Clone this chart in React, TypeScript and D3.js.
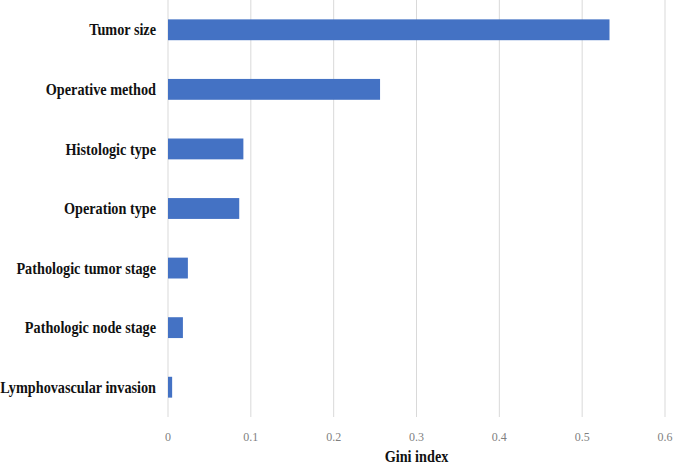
import { useEffect, useRef } from 'react';
import * as d3 from 'd3';

const features = [
  'Tumor size',
  'Operative method',
  'Histologic type',
  'Operation type',
  'Pathologic tumor stage',
  'Pathologic node stage',
  'Lymphovascular invasion',
];
const giniValues = [0.533, 0.256, 0.091, 0.086, 0.024, 0.018, 0.005];
const xTicks = [0, 0.1, 0.2, 0.3, 0.4, 0.5, 0.6];

export default function App() {
  const svgRef = useRef<SVGSVGElement>(null);

  useEffect(() => {
    if (!svgRef.current) return;
    const W = 685, H = 464;
    const svg = d3.select(svgRef.current).attr('width', W).attr('height', H);
    svg.selectAll('*').remove();

    const x = d3.scaleLinear().domain([0, 0.6]).range([168, 665]);
    const y = d3.scaleBand()
      .domain(features)
      .range([0, 417])
      .paddingInner(0.65)
      .paddingOuter(0.325);

    // Grid
    svg.append('g')
      .selectAll('line')
      .data(xTicks)
      .enter().append('line')
      .attr('x1', d => x(d)).attr('x2', d => x(d))
      .attr('y1', 0).attr('y2', 417)
      .attr('stroke', '#d9d9d9').attr('stroke-width', 1);

    // Bars
    svg.append('g')
      .selectAll('rect')
      .data(features)
      .enter().append('rect')
      .attr('x', x(0))
      .attr('y', d => y(d)!)
      .attr('width', (_, i) => x(giniValues[i]) - x(0))
      .attr('height', y.bandwidth())
      .attr('fill', '#4472c4');

    // Category labels (slightly condensed, like the source)
    svg.append('g')
      .selectAll('text')
      .data(features)
      .enter().append('text')
      .attr('transform', d => `translate(156,${y(d)! + y.bandwidth() / 2}) scale(0.89,1)`)
      .attr('dy', '0.35em')
      .attr('text-anchor', 'end')
      .attr('font-family', '"Liberation Serif", serif')
      .attr('font-weight', 'bold')
      .attr('font-size', 16)
      .attr('fill', '#111')
      .text(d => d);

    // X tick labels
    svg.append('g')
      .selectAll('text')
      .data(xTicks)
      .enter().append('text')
      .attr('x', d => x(d))
      .attr('y', 441)
      .attr('text-anchor', 'middle')
      .attr('font-family', '"Liberation Serif", serif')
      .attr('font-size', 12)
      .attr('fill', '#7f7f7f')
      .text(d => d3.format('~g')(d));

    // Axis title
    svg.append('text')
      .attr('transform', `translate(${x(0.3)},462) scale(0.89,1)`)
      .attr('text-anchor', 'middle')
      .attr('font-family', '"Liberation Serif", serif')
      .attr('font-weight', 'bold')
      .attr('font-size', 16)
      .attr('fill', '#111')
      .text('Gini index');
  }, []);

  return (
    <div style={{ position: 'absolute', left: 0, top: 0 }}>
      <svg ref={svgRef} style={{ display: 'block' }} />
    </div>
  );
}
